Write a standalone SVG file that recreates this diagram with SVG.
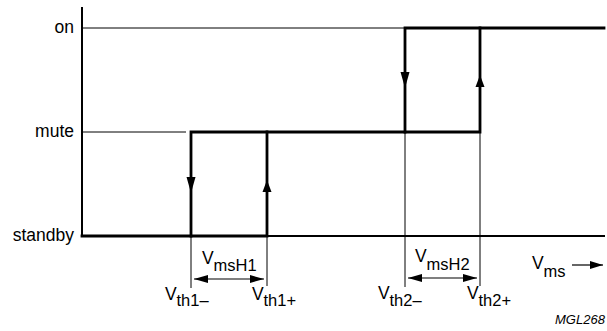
<svg xmlns="http://www.w3.org/2000/svg" width="607" height="331" viewBox="0 0 607 331">
<defs>
<style>
text{font-family:"Liberation Sans",Arial,sans-serif;fill:#000}
.lbl{font-size:17.5px}
.sub{font-size:16.5px}
.thin{stroke:#000;stroke-width:1;fill:none}
.thick{stroke:#000;stroke-width:2.8;fill:none;stroke-linejoin:miter;stroke-linecap:square}
.ah{fill:#000}
</style>
<marker id="arr" viewBox="0 0 14 8" refX="14" refY="4" markerWidth="14" markerHeight="8" markerUnits="userSpaceOnUse" orient="auto-start-reverse">
<path d="M0,0 L14,4 L0,8 Z" class="ah"/>
</marker>
<marker id="arr2" viewBox="0 0 13 8" refX="13" refY="4" markerWidth="13" markerHeight="8" markerUnits="userSpaceOnUse" orient="auto">
<path d="M0,0 L13,4 L0,8 Z" class="ah"/>
</marker>
</defs>
<g id="axes">
<line x1="82" y1="7" x2="82" y2="237" stroke="#000" stroke-width="2"/>
<line x1="82" y1="236" x2="605" y2="236" stroke="#000" stroke-width="2"/>
<line class="thin" x1="82" y1="28" x2="404" y2="28"/>
<line class="thin" x1="82" y1="132" x2="186" y2="132"/>
</g>
<g id="levels">
<text class="lbl" x="74" y="33" text-anchor="end">on</text>
<text class="lbl" x="74" y="137" text-anchor="end">mute</text>
<text class="lbl" x="74" y="241" text-anchor="end">standby</text>
</g>
<g id="connectors">
<path class="thick" d="M82,236 H267 V132"/>
<path class="thick" d="M191,236 V132 H480 V28"/>
<path class="thick" d="M405,132 V28 H604"/>
<path class="ah" d="M186.5,177 L195.5,177 L191,193 Z"/>
<path class="ah" d="M262.5,192 L271.5,192 L267,180 Z"/>
<path class="ah" d="M400.5,72 L409.5,72 L405,88 Z"/>
<path class="ah" d="M475.5,87 L484.5,87 L480,75 Z"/>
<line class="thin" x1="191" y1="236" x2="191" y2="288"/>
<line class="thin" x1="267" y1="236" x2="267" y2="286"/>
<line class="thin" x1="405" y1="132" x2="405" y2="287"/>
<line class="thin" x1="480" y1="132" x2="480" y2="286"/>
<line x1="194" y1="279" x2="264" y2="279" stroke="#000" stroke-width="1.2" marker-start="url(#arr)" marker-end="url(#arr)"/>
<line x1="408" y1="278" x2="477" y2="278" stroke="#000" stroke-width="1.2" marker-start="url(#arr)" marker-end="url(#arr)"/>
<line x1="572" y1="265" x2="603" y2="265" stroke="#000" stroke-width="1.2" marker-end="url(#arr2)"/>
</g>
<g id="labels">
<text class="lbl" x="202" y="264">V</text><text class="sub" x="213.5" y="271">msH1</text>
<text class="lbl" x="415" y="262">V</text><text class="sub" x="426.5" y="270">msH2</text>
<text class="lbl" x="165" y="300">V</text><text class="sub" x="176.5" y="306">th1–</text>
<text class="lbl" x="252" y="300">V</text><text class="sub" x="263.5" y="306">th1+</text>
<text class="lbl" x="378" y="299">V</text><text class="sub" x="389.5" y="306">th2–</text>
<text class="lbl" x="467" y="299">V</text><text class="sub" x="478.5" y="306">th2+</text>
<text class="lbl" x="532" y="269">V</text><text class="sub" x="543.5" y="277">ms</text>
<text x="555" y="324" font-size="13" font-style="italic">MGL268</text>
</g>
</svg>
